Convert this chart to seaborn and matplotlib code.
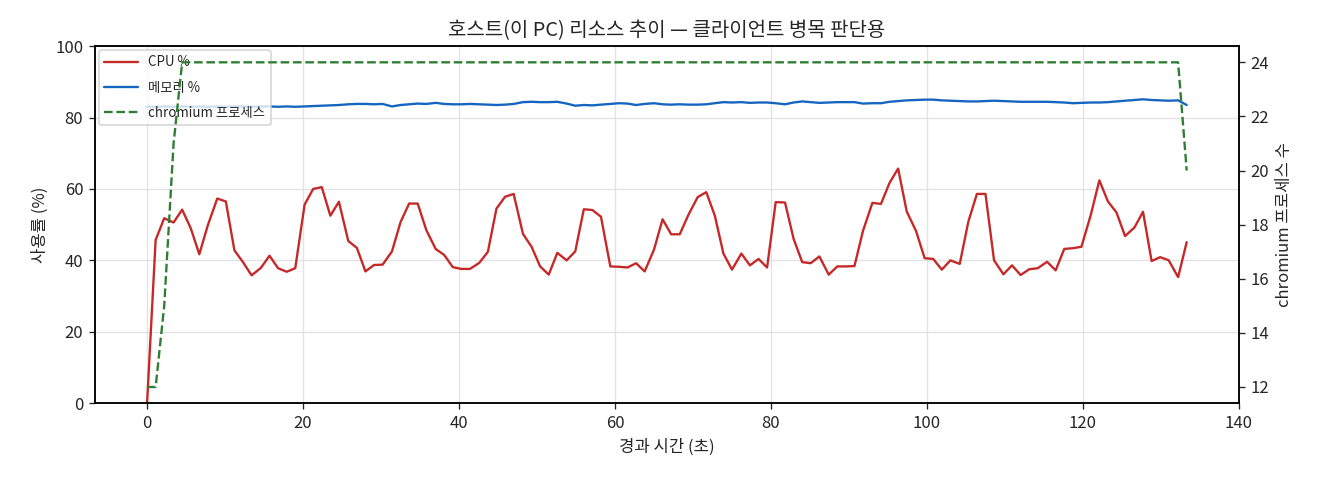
import matplotlib
matplotlib.use("Agg")
import matplotlib.pyplot as plt
import seaborn as sns
import pandas as pd

# elapsed time (s)
time_s = [0.0, 1.1, 2.2, 3.4, 4.5, 5.6, 6.7, 7.8, 9.0, 10.1,
          11.2, 12.3, 13.4, 14.6, 15.7, 16.8, 17.9, 19.0, 20.2, 21.3,
          22.4, 23.5, 24.6, 25.8, 26.9, 28.0, 29.1, 30.2, 31.4, 32.5,
          33.6, 34.7, 35.8, 37.0, 38.1, 39.2, 40.3, 41.4, 42.6, 43.7,
          44.8, 45.9, 47.0, 48.2, 49.3, 50.4, 51.5, 52.6, 53.8, 54.9,
          56.0, 57.1, 58.2, 59.4, 60.5, 61.6, 62.7, 63.8, 65.0, 66.1,
          67.2, 68.3, 69.4, 70.6, 71.7, 72.8, 73.9, 75.0, 76.2, 77.3,
          78.4, 79.5, 80.6, 81.8, 82.9, 84.0, 85.1, 86.2, 87.4, 88.5,
          89.6, 90.7, 91.8, 93.0, 94.1, 95.2, 96.3, 97.4, 98.6, 99.7,
          100.8, 101.9, 103.0, 104.2, 105.3, 106.4, 107.5, 108.6, 109.8, 110.9,
          112.0, 113.1, 114.2, 115.4, 116.5, 117.6, 118.7, 119.8, 121.0, 122.1,
          123.2, 124.3, 125.4, 126.6, 127.7, 128.8, 129.9, 131.0, 132.2, 133.3]

cpu_pct = [0.0, 45.7, 51.8, 50.6, 54.2, 49.0, 41.7, 49.9, 57.3, 56.5,
           42.8, 39.5, 35.8, 37.9, 41.3, 37.8, 36.8, 37.8, 55.6, 60.0,
           60.5, 52.5, 56.4, 45.4, 43.5, 36.9, 38.7, 38.8, 42.5, 50.7,
           55.9, 55.9, 48.5, 43.2, 41.5, 38.1, 37.6, 37.6, 39.3, 42.4,
           54.5, 57.8, 58.6, 47.4, 43.8, 38.3, 36.0, 42.1, 40.0, 42.5,
           54.3, 54.1, 52.2, 38.3, 38.2, 38.0, 39.2, 36.9, 43.0, 51.5,
           47.3, 47.3, 52.7, 57.7, 59.1, 52.5, 41.9, 37.4, 41.9, 38.6,
           40.4, 38.0, 56.3, 56.2, 46.0, 39.5, 39.2, 41.1, 36.0, 38.3,
           38.3, 38.4, 48.3, 56.1, 55.8, 61.7, 65.7, 53.7, 48.2, 40.6,
           40.4, 37.4, 40.0, 39.0, 50.8, 58.6, 58.6, 40.0, 36.1, 38.6,
           35.9, 37.5, 37.8, 39.6, 37.2, 43.2, 43.4, 43.8, 52.7, 62.4,
           56.5, 53.4, 46.8, 49.2, 53.6, 39.8, 40.9, 40.0, 35.3, 45.1]

mem_pct = [83.0, 83.0, 83.1, 83.0, 83.1, 83.0, 83.1, 83.0, 83.1, 83.0,
           83.1, 83.1, 83.0, 83.1, 83.1, 83.0, 83.1, 83.0, 83.1, 83.2,
           83.3, 83.4, 83.5, 83.7, 83.8, 83.8, 83.7, 83.8, 83.1, 83.5,
           83.7, 83.9, 83.8, 84.1, 83.8, 83.7, 83.7, 83.8, 83.7, 83.6,
           83.5, 83.6, 83.8, 84.3, 84.4, 84.3, 84.3, 84.4, 83.9, 83.3,
           83.5, 83.4, 83.6, 83.8, 84.0, 83.9, 83.5, 83.8, 84.0, 83.7,
           83.6, 83.7, 83.6, 83.6, 83.7, 84.0, 84.3, 84.2, 84.3, 84.1,
           84.2, 84.2, 84.0, 83.7, 84.2, 84.5, 84.3, 84.1, 84.2, 84.3,
           84.3, 84.3, 83.9, 84.0, 84.0, 84.4, 84.6, 84.8, 84.9, 85.0,
           85.0, 84.8, 84.7, 84.6, 84.5, 84.5, 84.6, 84.7, 84.6, 84.5,
           84.4, 84.4, 84.4, 84.4, 84.3, 84.2, 84.0, 84.1, 84.2, 84.2,
           84.3, 84.5, 84.7, 84.9, 85.1, 84.9, 84.8, 84.7, 84.8, 83.5]

chromium_procs = [12, 12, 15, 21] + [24] * 115 + [20]

df = pd.DataFrame({"t": time_s, "cpu": cpu_pct, "mem": mem_pct, "proc": chromium_procs})

sns.set_theme(style="ticks")
plt.rcParams["font.family"] = ["Noto Sans CJK KR", "DejaVu Sans"]
plt.rcParams["axes.unicode_minus"] = False

fig, ax1 = plt.subplots(figsize=(11, 4), dpi=120)
fig.subplots_adjust(left=0.072, right=0.9386, top=0.904, bottom=0.16)

sns.lineplot(data=df, x="t", y="cpu", ax=ax1, color="#c62828", linewidth=1.4, label="CPU %", legend=False)
sns.lineplot(data=df, x="t", y="mem", ax=ax1, color="#1565c0", linewidth=1.4, label="메모리 %", legend=False)
ax1.set_ylim(0, 100)
ax1.set_xlim(-6.67, 140)
ax1.set_xlabel("경과 시간 (초)", fontsize=10)
ax1.set_ylabel("사용률 (%)", fontsize=10)
ax1.grid(True, color="#dddddd", linewidth=0.8, alpha=0.8)
ax1.tick_params(labelsize=10, direction="out", length=3.5, width=0.8)

ax2 = ax1.twinx()
sns.lineplot(data=df, x="t", y="proc", ax=ax2, color="#2e7d32", linewidth=1.4,
             linestyle="--", label="chromium 프로세스", legend=False)
ax2.set_ylabel("chromium 프로세스 수", fontsize=10)
ax2.tick_params(labelsize=10, direction="out", length=3.5, width=0.8)
ax2.set_ylim(11.4, 24.6)
ax2.set_yticks([12, 14, 16, 18, 20, 22, 24])

for a in (ax1, ax2):
    for s in a.spines.values():
        s.set_linewidth(0.9)
        s.set_color("black")

h1, l1 = ax1.get_legend_handles_labels()
h2, l2 = ax2.get_legend_handles_labels()
ax1.legend(h1 + h2, l1 + l2, loc="upper left", fontsize=8, frameon=True,
           borderaxespad=0.3, handlelength=2.5, labelspacing=0.85)

ax1.set_title("호스트(이 PC) 리소스 추이 — 클라이언트 병목 판단용", fontsize=12)

fig.savefig("out.png", dpi=120)
